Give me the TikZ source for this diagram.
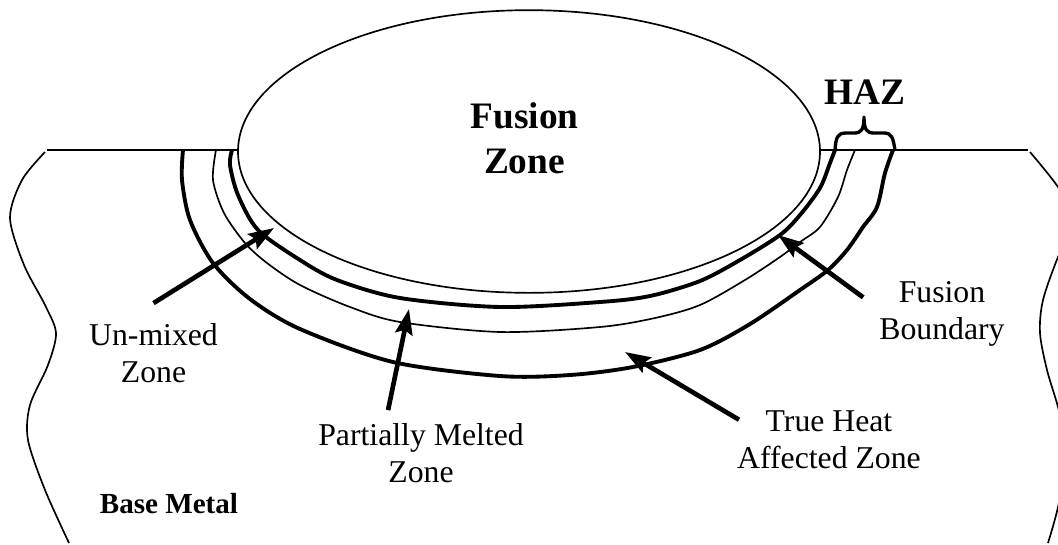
\documentclass[tikz,border=0pt]{standalone}
\usepackage{fontspec}
\setmainfont{Liberation Serif}
\usetikzlibrary{shapes.geometric,arrows.meta,positioning}
\tikzset{
  x=0.75pt,y=-0.75pt,
  thinln/.style={line width=1.25pt},
  thickln/.style={line width=2.9pt},
  arr/.style={-{Stealth[length=19pt,width=13pt,inset=3pt]},line width=3.5pt},
  brc/.style={line width=2.5pt,line join=round},
  lbl/.style={align=center,inner sep=0pt,font=\fontsize{23.8}{27.7}\selectfont},
  ttl/.style={align=center,inner sep=0pt,font=\fontsize{28}{34}\selectfont\bfseries},
}
\begin{document}
\begin{tikzpicture}
  \useasboundingbox (0,0) rectangle (1058,544);
  \node[ellipse,draw,thinln,minimum width=436.5pt,minimum height=212pt,inner sep=0pt] (fz) at (529,151.5) {};
  \node[ttl] (fzt) at (524.5,138) {Fusion\\Zone};
  \node[ttl] (haz) at (865,92) {HAZ};
  \node[lbl,font=\fontsize{21.8}{27}\selectfont\bfseries] (bm) at (169,504) {Base Metal};
  \node[lbl] (um) at (153.5,353) {Un-mixed\\Zone};
  \node[lbl] (pm) at (421,453) {Partially Melted\\Zone};
  \node[lbl] (ht) at (829,440) {True Heat\\Affected Zone};
  \node[lbl] (fb) at (942,314) {Fusion\\Boundary};
  % surface of the plate
  \coordinate (sl0) at (47,150);
  \coordinate (sl1) at (238,150);
  \coordinate (sr0) at (820,150);
  \coordinate (sr1) at (1028,150);
  \draw[thinln] (sl0) -- (sl1);
  \draw[thinln] (sr0) -- (sr1);
  % broken edges of the base metal
  \draw[thinln] plot[smooth] coordinates {(45,152) (22,180) (10,218) (24,265) (45,305) (56,333) (48,365) (30,405) (28,440) (45,490) (69,543)};
  \draw[thinln] plot[smooth] coordinates {(1030,152) (1058,187) (1075,220) (1058,257) (1043,300) (1040,333) (1047,370) (1058,407) (1068,450) (1058,507) (1048,543)};
  % zone boundaries
  \draw[thickln] plot[smooth] coordinates {(232,150) (230,165) (238,195) (258,230) (300,260) (337,280) (400,298) (500,307) (600,302) (650,296) (700,281) (740,260) (780,235) (800,215) (820,188) (830,163) (835,150)};
  \draw[thinln] plot[smooth] coordinates {(216,150) (213,180) (224,213) (245,243) (267,263) (300,285) (350,307) (400,322) (500,332) (600,327) (655,318) (700,305) (745,280) (780,257) (800,242) (820,227) (838,197) (847,170) (855,150)};
  \draw[thickln] plot[smooth] coordinates {(183,150) (182,180) (190,220) (213,263) (250,299) (300,329) (393,362) (500,376) (570,375) (633,367) (700,350) (750,324) (800,290) (828,270) (847,250) (863,227) (877,207) (885,173) (893,150)};
  % haz brace
  \coordinate (hzl) at (835,150);
  \coordinate (hzr) at (895,150);
  \coordinate (hzt) at (864,117);
  \draw[brc] (hzl) .. controls (836,138) and (837,133) .. (846,133) -- (854,133) .. controls (861,133) and (864,130) .. (hzt) .. controls (864,130) and (867,133) .. (874,133) -- (884,133) .. controls (892,133) and (893,138) .. (hzr);
  % arrows
  \coordinate (umTip) at (274,228);
  \coordinate (pmTip) at (409,309);
  \coordinate (htTip) at (625,352);
  \coordinate (fbTip) at (778,235);
  \draw[arr] ([shift={(0,-20)}]um.north) -- (umTip);
  \draw[arr] ([shift={(70,-13)}]pm.north west) -- (pmTip);
  \draw[arr] ([shift={(2,9)}]ht.north west) -- (htTip);
  \draw[arr] ([shift={(-16,16)}]fb.north west) -- (fbTip);
\end{tikzpicture}
\end{document}
